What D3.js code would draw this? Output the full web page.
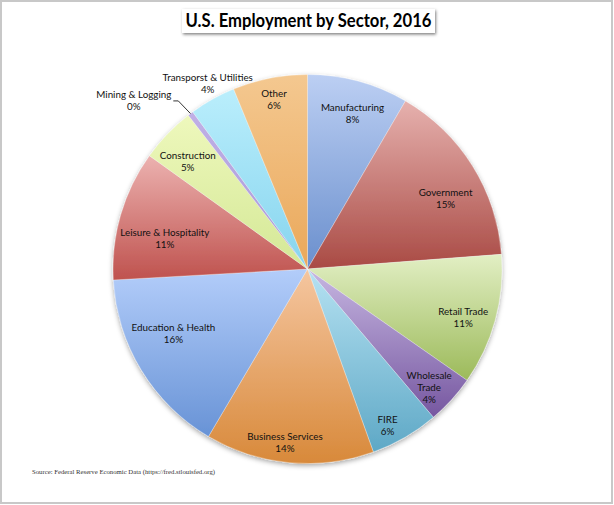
<!DOCTYPE html>
<html>
<head>
<meta charset="utf-8">
<script src="https://d3js.org/d3.v7.min.js"></script>
<style>
    body { margin: 0; background: #fff; }
    svg { display: block; }
</style>
</head>
<body>
<div id="chart"></div>
<script>
    // data, share of employment (percent)
    const sectors = ["Manufacturing", "Government", "Retail Trade", "Wholesale Trade", "FIRE",
        "Business Services", "Education & Health", "Leisure & Hospitality", "Construction",
        "Mining & Logging", "Transporst & Utilities", "Other"];
    const shares = [8.4, 15.4, 10.9, 4.1, 5.7, 14.0, 15.6, 10.8, 4.6, 0.46, 3.84, 6.2];
    const title = "U.S. Employment by Sector, 2016";
    const source = "Source: Federal Reserve Economic Data (https://fred.stlouisfed.org)";

    // gradient colours, top -> bottom of each slice
    const topColors = ["#bccff3", "#e6b1ae", "#e2efc4", "#c6b6e1", "#b6e2f2", "#f5c6a0",
        "#b3cdfa", "#ecb2b0", "#eef8bc", "#c0b0e6", "#baeefc", "#f4c890"];
    const bottomColors = ["#6a8fcd", "#a94a44", "#9cba5a", "#7657a0", "#5ea8c6", "#d8893a",
        "#6893d6", "#bf524e", "#d4e896", "#a898d8", "#86d4ee", "#eaa85a"];

    const width = 614, height = 505;
    const cx = 307.5, cy = 269, R = 194.5;

    // label placement: [radius, angle shift in degrees] from slice middle
    const labelPlace = {
        "Manufacturing": [162, 1], "Government": [155, 5], "Retail Trade": [163, 2],
        "Wholesale Trade": [170, 2], "FIRE": [176, 3], "Business Services": [175, 2],
        "Education & Health": [149, 5.5], "Leisure & Hospitality": [146, -4],
        "Construction": [161, -2], "Transporst & Utilities": [211, 1], "Other": [173, 0]
    };

    const data = sectors.map((s, i) => ({ name: s, value: shares[i], i: i }));
    const total = d3.sum(shares);
    const pct = d => d3.format(".0f")(d.data.value / total * 100) + "%";

    const svg = d3.select("#chart")
        .append("svg")
        .attr("width", width)
        .attr("height", height);

    const defs = svg.append("defs");

    const shadow = defs.append("filter").attr("id", "shadow")
        .attr("x", "-10%").attr("y", "-10%").attr("width", "120%").attr("height", "130%");
    shadow.append("feDropShadow")
        .attr("dx", 0).attr("dy", 2).attr("stdDeviation", 2.5)
        .attr("flood-color", "#000").attr("flood-opacity", 0.35);

    const tshadow = defs.append("filter").attr("id", "tshadow")
        .attr("x", "-10%").attr("y", "-30%").attr("width", "120%").attr("height", "170%");
    tshadow.append("feDropShadow")
        .attr("dx", 1).attr("dy", 1.5).attr("stdDeviation", 1.5)
        .attr("flood-color", "#000").attr("flood-opacity", 0.5);

    defs.selectAll("linearGradient")
        .data(data)
        .join("linearGradient")
        .attr("id", d => "g" + d.i)
        .attr("x1", 0).attr("y1", 0).attr("x2", 0).attr("y2", 1)
        .selectAll("stop")
        .data(d => [{ o: 0, c: topColors[d.i] }, { o: 1, c: bottomColors[d.i] }])
        .join("stop")
        .attr("offset", d => d.o)
        .attr("stop-color", d => d.c);

    // frame
    svg.append("rect")
        .attr("x", 1).attr("y", 1)
        .attr("width", 611).attr("height", 502)
        .attr("fill", "#fff")
        .attr("stroke", "#c8c8c8")
        .attr("stroke-width", 2);

    // title box
    svg.append("rect")
        .attr("x", 182).attr("y", 9)
        .attr("width", 253).attr("height", 24)
        .attr("fill", "#fff")
        .attr("filter", "url(#tshadow)");
    svg.append("text")
        .attr("x", 308.5).attr("y", 27)
        .attr("text-anchor", "middle")
        .attr("font-family", "Lato, 'Open Sans', sans-serif")
        .attr("font-weight", "bold")
        .attr("font-size", 18)
        .attr("textLength", 246)
        .attr("lengthAdjust", "spacingAndGlyphs")
        .attr("fill", "#000")
        .text(title);

    const pie = d3.pie().value(d => d.value).sort(null);
    const arc = d3.arc().innerRadius(0).outerRadius(R);
    const arcs = pie(data);

    const g = svg.append("g").attr("transform", `translate(${cx},${cy})`);

    g.append("g")
        .attr("filter", "url(#shadow)")
        .selectAll("path")
        .data(arcs)
        .join("path")
        .attr("d", arc)
        .attr("fill", d => `url(#g${d.data.i})`)
        .attr("stroke", "#fff")
        .attr("stroke-opacity", 0.5)
        .attr("stroke-width", 0.6);

    // labels
    const font = "Lato, 'Open Sans', sans-serif";
    const lab = g.append("g")
        .attr("font-family", font)
        .attr("font-size", 9.8)
        .attr("fill", "#111")
        .attr("text-anchor", "middle");

    arcs.filter(d => labelPlace[d.data.name]).forEach(d => {
        const p = labelPlace[d.data.name];
        const a = (d.startAngle + d.endAngle) / 2 + p[1] * Math.PI / 180;
        const x = p[0] * Math.sin(a), y = -p[0] * Math.cos(a);
        const lines = d.data.name === "Wholesale Trade" ? ["Wholesale", "Trade"] : [d.data.name];
        lines.push(pct(d));
        const t = lab.append("text")
            .attr("transform", `translate(${x},${y})`);
        lines.forEach((l, k) => {
            t.append("tspan")
                .attr("x", 0)
                .attr("y", (k - (lines.length - 1) / 2) * 12 + 3.5)
                .text(l);
        });
    });

    // small slice with a leader line
    const small = arcs.find(d => d.data.name === "Mining & Logging");
    const ma = (small.startAngle + small.endAngle) / 2;
    const p0 = [R * Math.sin(ma), -R * Math.cos(ma)];
    const p1 = [212 * Math.sin(ma - 0.01), -212 * Math.cos(ma - 0.01)];
    const p2 = [p1[0] - 5, p1[1]];
    g.append("path")
        .attr("d", d3.line()([p0, p1, p2]))
        .attr("fill", "none")
        .attr("stroke", "#000")
        .attr("stroke-width", 0.8);
    const mt = lab.append("text");
    mt.append("tspan").attr("x", 0).attr("y", -2.5).text(small.data.name);
    mt.append("tspan").attr("x", 0).attr("y", 9.5).text(pct(small));
    const mw = mt.node().getBBox().width;
    mt.attr("transform", `translate(${p2[0] - 2 - mw / 2},${p2[1]})`);

    // source note
    svg.append("text")
        .attr("x", 32).attr("y", 474)
        .attr("font-family", "'Liberation Serif', 'Times New Roman', serif")
        .attr("font-size", 6.8)
        .attr("fill", "#333")
        .attr("textLength", 183)
        .attr("lengthAdjust", "spacingAndGlyphs")
        .text(source);
</script>
</body>
</html>
